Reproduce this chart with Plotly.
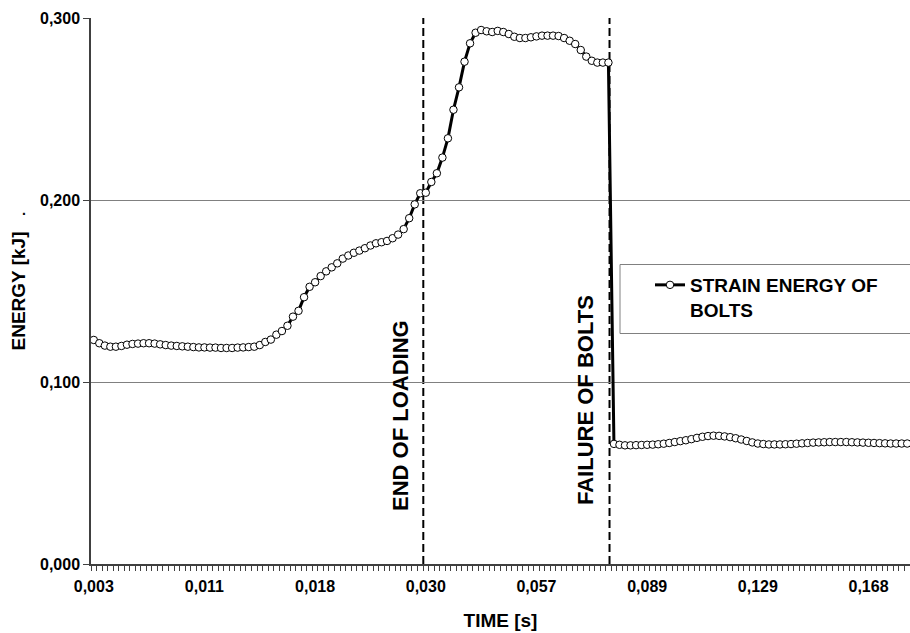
import plotly.graph_objects as go

# ---- data ----
tick_index = [0, 20, 40, 60, 80, 100, 120, 140]
tick_labels = ["0,003", "0,011", "0,018", "0,030", "0,057", "0,089", "0,129", "0,168"]

energy_before_failure = [
    0.1231, 0.1213, 0.1200, 0.1194, 0.1194, 0.1198, 0.1205, 0.1209, 0.1211, 0.1213,
    0.1213, 0.1211, 0.1207, 0.1203, 0.1200, 0.1198, 0.1196, 0.1194, 0.1192, 0.1190,
    0.1190, 0.1189, 0.1189, 0.1187, 0.1187, 0.1187, 0.1189, 0.1190, 0.1192, 0.1194,
    0.1203, 0.1220, 0.1233, 0.1260, 0.1280, 0.1309, 0.1359, 0.1391, 0.1466, 0.1523,
    0.1548, 0.1582, 0.1608, 0.1630, 0.1652, 0.1678, 0.1695, 0.1710, 0.1722, 0.1735,
    0.1750, 0.1762, 0.1768, 0.1775, 0.1790, 0.1810, 0.1840, 0.1900, 0.1976, 0.2037,
    0.2040, 0.2099, 0.2147, 0.2233, 0.2339, 0.2496, 0.2619, 0.2760, 0.2861, 0.2919,
    0.2934, 0.2927, 0.2923, 0.2929, 0.2923, 0.2912, 0.2897, 0.2890, 0.2890, 0.2894,
    0.2899, 0.2903, 0.2903, 0.2903, 0.2901, 0.2890, 0.2875, 0.2857, 0.2824, 0.2788,
    0.2765, 0.2755, 0.2755, 0.2755,
]
energy_after_failure = [
    0.0660, 0.0655, 0.0652, 0.0652, 0.0653, 0.0654, 0.0655, 0.0656, 0.0658, 0.0661,
    0.0665, 0.0670, 0.0675, 0.0680, 0.0686, 0.0693, 0.0699, 0.0703, 0.0705, 0.0704,
    0.0701, 0.0697, 0.0691, 0.0684, 0.0676, 0.0668, 0.0662, 0.0659, 0.0657, 0.0657,
    0.0657, 0.0658, 0.0659, 0.0661, 0.0663, 0.0665, 0.0667, 0.0668, 0.0669, 0.0670,
    0.0670, 0.0670, 0.0670, 0.0669, 0.0668, 0.0667, 0.0666, 0.0665, 0.0664, 0.0663,
    0.0662, 0.0662, 0.0662, 0.0662,
]
energy = energy_before_failure + energy_after_failure
step = list(range(len(energy)))

end_of_loading_at = 59.55
failure_at = 93.2

FONT = "Liberation Sans, Arial, sans-serif"
AXIS_COLOR = "#404040"
GRID_COLOR = "#808080"

fig = go.Figure()
fig.add_trace(go.Scatter(
    x=step, y=energy, mode="lines+markers",
    name="STRAIN ENERGY OF<br>BOLTS",
    line=dict(color="black", width=3),
    marker=dict(symbol="circle", size=7.5, color="white",
                line=dict(color="black", width=1)),
))

for xv in (end_of_loading_at, failure_at):
    fig.add_shape(type="line", xref="x", yref="y", x0=xv, x1=xv, y0=0, y1=0.3,
                  line=dict(color="black", width=2, dash="8px,4px"), layer="below")

# legend frame (cut by the right edge like the reference)
fig.add_shape(type="rect", xref="paper", yref="paper",
              x0=(620 - 91) / 819, x1=1.1,
              y0=(564 - 333.5) / 546, y1=(564 - 264.5) / 546,
              line=dict(color=GRID_COLOR, width=1), fillcolor="white", layer="above")

fig.add_annotation(text="END OF LOADING", textangle=-90, xref="paper", yref="paper",
                   x=(400 - 91) / 819, y=(564 - 416) / 546, showarrow=False,
                   xanchor="center", yanchor="middle",
                   font=dict(family=FONT, size=22, color="black", weight="bold"))
fig.add_annotation(text="FAILURE OF BOLTS", textangle=-90, xref="paper", yref="paper",
                   x=(585 - 91) / 819, y=(564 - 400) / 546, showarrow=False,
                   xanchor="center", yanchor="middle",
                   font=dict(family=FONT, size=22, color="black", weight="bold"))
fig.add_annotation(text=".", xref="paper", yref="paper",
                   x=(20 - 91) / 819, y=(564 - 210) / 546, showarrow=False,
                   font=dict(family=FONT, size=14, color="black", weight="bold"))

fig.update_layout(
    width=910, height=633,
    margin=dict(l=91, r=0, t=18, b=69),
    paper_bgcolor="white", plot_bgcolor="white",
    separators=",.",
    showlegend=True,
    legend=dict(x=(650 - 91) / 819, y=(564 - 266) / 546, xanchor="left", yanchor="top",
                bgcolor="rgba(0,0,0,0)", borderwidth=0, valign="top",
                font=dict(family=FONT, size=19, color="black", weight="bold")),
    font=dict(family=FONT, color="black"),
)

fig.update_xaxes(
    range=[-0.5, len(energy) - 0.5],
    tickmode="array", tickvals=tick_index, ticktext=tick_labels,
    ticks="outside", ticklen=7, tickcolor="rgba(0,0,0,0)",
    tickfont=dict(family=FONT, size=16, color="black", weight="bold"),
    showline=True, linecolor=AXIS_COLOR, linewidth=1.5,
    showgrid=False, zeroline=False,
    minor=dict(tickmode="linear", tick0=0.5, dtick=1, ticks="outside",
               ticklen=5, tickcolor=AXIS_COLOR, tickwidth=1, showgrid=False),
    title=dict(text="TIME [s]", standoff=20,
               font=dict(family=FONT, size=19, color="black", weight="bold")),
)
fig.update_yaxes(
    range=[0, 0.3], tickmode="array", tickvals=[0, 0.1, 0.2, 0.3],
    tickformat=".3f",
    ticks="outside", ticklen=6, tickcolor=AXIS_COLOR,
    tickfont=dict(family=FONT, size=16, color="black", weight="bold"),
    showline=True, linecolor=AXIS_COLOR, linewidth=1.5,
    showgrid=True, gridcolor=GRID_COLOR, gridwidth=1, zeroline=False,
    title=dict(text="ENERGY [kJ]", standoff=9,
               font=dict(family=FONT, size=19, color="black", weight="bold")),
)

fig.write_html("out.html")
